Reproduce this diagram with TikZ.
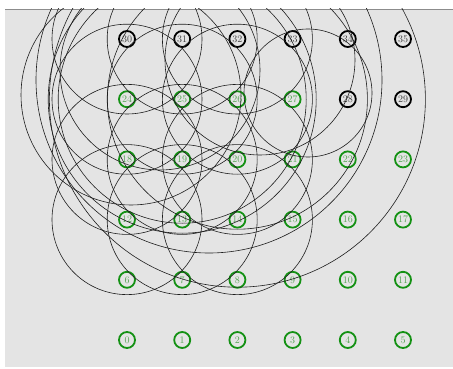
\documentclass[tikz,border=0pt]{standalone}
\usepackage{tikz}
\definecolor{panel}{RGB}{228,228,228}
\definecolor{frameline}{RGB}{140,140,140}
\definecolor{nodegreen}{RGB}{20,145,20}
\definecolor{labelgreen}{RGB}{85,165,85}
\definecolor{rangeline}{RGB}{30,30,30}

\begin{document}
\begin{tikzpicture}[x=1pt,y=-1pt,
  sensor/.style={circle,draw=nodegreen,line width=1.8pt,inner sep=0pt,minimum size=16pt,
    text=labelgreen,font=\fontsize{10}{10}\selectfont},
  anchorsensor/.style={sensor,draw=black,text=black!75},
  ringline/.style={draw=rangeline,line width=0.6pt}
]
\useasboundingbox (0,0) rectangle (453,369);
\fill[panel] (5,9) rectangle (453,367);
\draw[frameline,line width=0.8pt] (5,9) -- (453,9);

% sensor grid, 0 at bottom left
\foreach \n in {0,...,35}{
  \pgfmathtruncatemacro{\col}{mod(\n,6)}
  \pgfmathtruncatemacro{\row}{div(\n,6)}
  \ifnum\n<28
    \node[sensor] (n\n) at ({127+55.2*\col},{340-60.2*\row}) {\n};
  \else
    \node[anchorsensor] (n\n) at ({127+55.2*\col},{340-60.2*\row}) {\n};
  \fi
}

% ranges
\begin{scope}
\clip (5,9) rectangle (453,367);
\foreach \n in {12,13,14,18,19,20,24,25,26,30,31,32}
  \draw[ringline] (n\n) circle[radius=75pt];
\foreach \n/\r in {25/124,25/134,26/130,26/188}
  \draw[ringline] (n\n) circle[radius=\r pt];
% estimates off the grid
\foreach \cx/\cy/\r in {131/95/110,209/80/173,308/93/64,160/70/100,260/60/95}
  \draw[ringline] (\cx,\cy) circle[radius=\r pt];
\end{scope}
\end{tikzpicture}
\end{document}
